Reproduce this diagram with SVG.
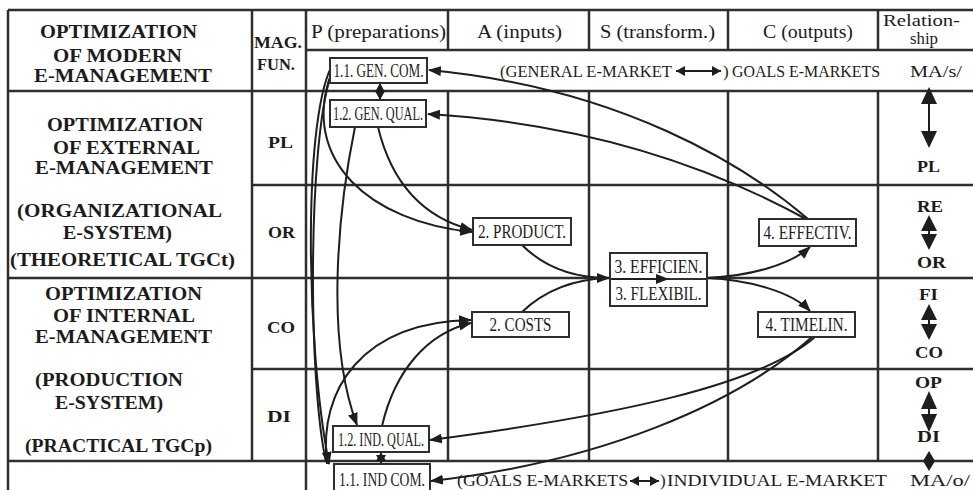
<svg xmlns="http://www.w3.org/2000/svg" width="973" height="490" viewBox="0 0 973 490">
  <style>
    text { font-family: "Liberation Serif", "Times New Roman", serif; fill: #1c1c1c; }
    .t { font-size: 19px; font-weight: bold; }
    .h { font-size: 18px; }
    .hs { font-size: 16px; }
    .m { font-size: 17px; font-weight: bold; }
    .n { font-size: 18px; }
    .r { font-size: 17px; }
    .grid line { stroke: #2e2e2e; stroke-width: 2.5; }
    .box { fill: #ffffff; stroke: #2e2e2e; stroke-width: 2; }
    .con { fill: none; stroke: #1e1e1e; stroke-width: 2; }
    .head { fill: #1e1e1e; }
  </style>
  <defs>
    <marker id="ah" viewBox="0 0 13 10" refX="12" refY="5" markerWidth="13" markerHeight="10" markerUnits="userSpaceOnUse" orient="auto-start-reverse">
      <path d="M0,0 L13,5 L0,10 z" fill="#1e1e1e"/>
    </marker>
    <marker id="sh" viewBox="0 0 9 10" refX="9" refY="5" markerWidth="9" markerHeight="10" markerUnits="userSpaceOnUse" orient="auto-start-reverse">
      <path d="M0,0 L9,5 L0,10 z" fill="#1e1e1e"/>
    </marker>
  </defs>

  <rect width="973" height="490" fill="#ffffff"/>

  <!-- table grid -->
  <g id="grid" class="grid">
    <line x1="8" y1="10" x2="973" y2="10"/>
    <line x1="306" y1="50" x2="973" y2="50"/>
    <line x1="8" y1="91" x2="973" y2="91"/>
    <line x1="252" y1="185" x2="973" y2="185"/>
    <line x1="8" y1="278" x2="973" y2="278"/>
    <line x1="252" y1="369" x2="973" y2="369"/>
    <line x1="8" y1="461" x2="973" y2="461"/>
    <line x1="8" y1="10" x2="8" y2="490"/>
    <line x1="252" y1="10" x2="252" y2="461"/>
    <line x1="306" y1="10" x2="306" y2="490"/>
    <line x1="448" y1="10" x2="448" y2="50"/>
    <line x1="448" y1="91" x2="448" y2="461"/>
    <line x1="589" y1="10" x2="589" y2="50"/>
    <line x1="589" y1="91" x2="589" y2="461"/>
    <line x1="728" y1="10" x2="728" y2="50"/>
    <line x1="728" y1="91" x2="728" y2="461"/>
    <line x1="878" y1="10" x2="878" y2="50"/>
    <line x1="878" y1="91" x2="878" y2="461"/>
  </g>

  <!-- left column: levels of management -->
  <g id="levels">
    <text class="t" x="40" y="38" textLength="157" lengthAdjust="spacingAndGlyphs">OPTIMIZATION</text>
    <text class="t" x="53" y="62" textLength="129" lengthAdjust="spacingAndGlyphs">OF MODERN</text>
    <text class="t" x="34" y="82" textLength="178" lengthAdjust="spacingAndGlyphs">E-MANAGEMENT</text>
    <text class="t" x="47" y="131" textLength="156" lengthAdjust="spacingAndGlyphs">OPTIMIZATION</text>
    <text class="t" x="53" y="154" textLength="147" lengthAdjust="spacingAndGlyphs">OF  EXTERNAL</text>
    <text class="t" x="35" y="174" textLength="178" lengthAdjust="spacingAndGlyphs">E-MANAGEMENT</text>
    <text class="t" x="17" y="217" textLength="205" lengthAdjust="spacingAndGlyphs">(ORGANIZATIONAL</text>
    <text class="t" x="63" y="239" textLength="109" lengthAdjust="spacingAndGlyphs">E-SYSTEM)</text>
    <text class="t" x="10" y="266" textLength="225" lengthAdjust="spacingAndGlyphs">(THEORETICAL TGCt)</text>
    <text class="t" x="45" y="300" textLength="157" lengthAdjust="spacingAndGlyphs">OPTIMIZATION</text>
    <text class="t" x="53" y="322" textLength="142" lengthAdjust="spacingAndGlyphs">OF  INTERNAL</text>
    <text class="t" x="35" y="343" textLength="177" lengthAdjust="spacingAndGlyphs">E-MANAGEMENT</text>
    <text class="t" x="35" y="386" textLength="148" lengthAdjust="spacingAndGlyphs">(PRODUCTION</text>
    <text class="t" x="55" y="409" textLength="108" lengthAdjust="spacingAndGlyphs">E-SYSTEM)</text>
    <text class="t" x="25" y="452" textLength="187" lengthAdjust="spacingAndGlyphs">(PRACTICAL TGCp)</text>
  </g>

  <!-- management functions -->
  <g id="functions">
    <text class="m" x="254" y="48" textLength="48" lengthAdjust="spacingAndGlyphs">MAG.</text>
    <text class="m" x="257" y="70" textLength="38" lengthAdjust="spacingAndGlyphs">FUN.</text>
    <text class="m" x="268" y="148" textLength="25" lengthAdjust="spacingAndGlyphs">PL</text>
    <text class="m" x="268" y="238" textLength="27" lengthAdjust="spacingAndGlyphs">OR</text>
    <text class="m" x="267" y="333" textLength="28" lengthAdjust="spacingAndGlyphs">CO</text>
    <text class="m" x="267" y="422" textLength="24" lengthAdjust="spacingAndGlyphs">DI</text>
  </g>

  <!-- column headers -->
  <g id="headers">
    <text class="h" x="311" y="38" textLength="135" lengthAdjust="spacingAndGlyphs">P (preparations)</text>
    <text class="h" x="477" y="38" textLength="85" lengthAdjust="spacingAndGlyphs">A (inputs)</text>
    <text class="h" x="600" y="38" textLength="115" lengthAdjust="spacingAndGlyphs">S (transform.)</text>
    <text class="h" x="763" y="38" textLength="90" lengthAdjust="spacingAndGlyphs">C (outputs)</text>
    <text class="hs" x="883" y="26" textLength="77" lengthAdjust="spacingAndGlyphs">Relation-</text>
    <text class="hs" x="910" y="44" textLength="28" lengthAdjust="spacingAndGlyphs">ship</text>
  </g>

  <!-- market rows -->
  <g id="market-general">
    <text class="r" x="500" y="77" textLength="172" lengthAdjust="spacingAndGlyphs">(GENERAL  E-MARKET</text>
    <line class="con" x1="676" y1="71" x2="721" y2="71" marker-start="url(#sh)" marker-end="url(#sh)"/>
    <text class="r" x="723" y="77">)</text>
    <text class="r" x="732" y="77" textLength="148" lengthAdjust="spacingAndGlyphs">GOALS  E-MARKETS</text>
    <text class="r" x="910" y="77" textLength="52" lengthAdjust="spacingAndGlyphs">MA/s/</text>
  </g>
  <g id="market-individual">
    <text class="r" x="457" y="486" textLength="171" lengthAdjust="spacingAndGlyphs">(GOALS  E-MARKETS</text>
    <line class="con" x1="630" y1="481" x2="659" y2="481" marker-start="url(#sh)" marker-end="url(#sh)"/>
    <text class="r" x="660" y="486">)</text>
    <text class="r" x="667" y="486" textLength="220" lengthAdjust="spacingAndGlyphs">INDIVIDUAL E-MARKET</text>
    <text class="r" x="910" y="486" textLength="60" lengthAdjust="spacingAndGlyphs">MA/o/</text>
  </g>

  <!-- relationship column -->
  <g id="relationship">
    <text class="m" x="917" y="172" textLength="23" lengthAdjust="spacingAndGlyphs">PL</text>
    <text class="m" x="917" y="212" textLength="26" lengthAdjust="spacingAndGlyphs">RE</text>
    <text class="m" x="917" y="268" textLength="29" lengthAdjust="spacingAndGlyphs">OR</text>
    <text class="m" x="919" y="300" textLength="19" lengthAdjust="spacingAndGlyphs">FI</text>
    <text class="m" x="915" y="358" textLength="28" lengthAdjust="spacingAndGlyphs">CO</text>
    <text class="m" x="915" y="388" textLength="27" lengthAdjust="spacingAndGlyphs">OP</text>
    <text class="m" x="917" y="442" textLength="23" lengthAdjust="spacingAndGlyphs">DI</text>
    <!-- MA/s/ <-> PL -->
    <line class="con" x1="929" y1="100" x2="929" y2="135"/>
    <polygon class="head" points="929,87 921,104 937,104"/>
    <polygon class="head" points="929,148 921,131 937,131"/>
    <!-- RE <-> OR -->
    <polygon class="head" points="929,215 921,231 937,231"/>
    <polygon class="head" points="929,250 921,234 937,234"/>
    <line class="con" x1="929" y1="228" x2="929" y2="237"/>
    <!-- FI <-> CO -->
    <polygon class="head" points="929,304 921,320 937,320"/>
    <polygon class="head" points="929,340 921,324 937,324"/>
    <line class="con" x1="929" y1="317" x2="929" y2="327"/>
    <!-- OP <-> DI -->
    <polygon class="head" points="929,391 921,409 937,409"/>
    <polygon class="head" points="929,432 921,414 937,414"/>
    <line class="con" x1="929" y1="405" x2="929" y2="418"/>
    <!-- DI <-> MA/o/ -->
    <polygon class="head" points="929,451 923,461 935,461"/>
    <polygon class="head" points="929,471 923,461 935,461"/>
  </g>

  <!-- connectors -->
  <g id="connectors" class="con">
    <path d="M808,219 C745,165 620,88 429,70" marker-end="url(#ah)"/>
    <path d="M806,219 C735,180 610,125 428,114" marker-end="url(#ah)"/>
    <path d="M331,74 C300,160 370,222 472,232" marker-end="url(#ah)"/>
    <path d="M378,127 C392,185 425,218 472,230" marker-end="url(#ah)"/>
    <path d="M355,127 C338,210 325,340 357,425" marker-end="url(#ah)"/>
    <path d="M334,62 C303,110 305,340 329,464" marker-end="url(#ah)"/>
    <path d="M330,78 C308,150 308,380 326,462"/>
    <path d="M522,245 C545,268 575,278 609,278" marker-end="url(#ah)"/>
    <path d="M522,312 C545,290 575,279 609,278"/>
    <path d="M707,278 C750,276 790,265 810,247" marker-end="url(#ah)"/>
    <path d="M707,278 C750,280 792,292 810,311" marker-end="url(#ah)"/>
    <path d="M815,337 C760,385 620,415 430,440" marker-end="url(#ah)"/>
    <path d="M812,337 C735,405 600,462 431,481" marker-end="url(#ah)"/>
    <path d="M382,426 C395,370 428,333 471,323" marker-end="url(#ah)"/>
    <path d="M327,464 C318,390 362,322 471,320" marker-end="url(#ah)"/>
    <line x1="380" y1="83" x2="380" y2="100" marker-start="url(#sh)" marker-end="url(#sh)"/>
    <line x1="381" y1="452" x2="381" y2="464" marker-start="url(#sh)" marker-end="url(#sh)"/>
  </g>

  <!-- nodes -->
  <g id="gen-com">
    <rect class="box" x="330" y="58" width="97" height="25"/>
    <text class="n" x="378.5" y="77" text-anchor="middle" textLength="90" lengthAdjust="spacingAndGlyphs">1.1. GEN. COM.</text>
  </g>
  <g id="gen-qual">
    <rect class="box" x="330" y="100" width="96" height="27"/>
    <text class="n" x="378" y="120" text-anchor="middle" textLength="90" lengthAdjust="spacingAndGlyphs">1.2. GEN. QUAL.</text>
  </g>
  <g id="product">
    <rect class="box" x="473" y="218" width="98" height="27"/>
    <text class="n" x="522" y="238" text-anchor="middle" textLength="88" lengthAdjust="spacingAndGlyphs">2. PRODUCT.</text>
  </g>
  <g id="costs">
    <rect class="box" x="472" y="312" width="97" height="25"/>
    <text class="n" x="520.5" y="331" text-anchor="middle" textLength="62" lengthAdjust="spacingAndGlyphs">2. COSTS</text>
  </g>
  <g id="efficiency">
    <rect class="box" x="610" y="253" width="97" height="53"/>
    <line x1="610" y1="279" x2="707" y2="279" stroke="#2e2e2e" stroke-width="2"/>
    <line x1="612" y1="279" x2="668" y2="279" class="con" marker-end="url(#ah)"/>
    <text class="n" x="658.5" y="273" text-anchor="middle" textLength="88" lengthAdjust="spacingAndGlyphs">3. EFFICIEN.</text>
    <text class="n" x="658.5" y="300" text-anchor="middle" textLength="86" lengthAdjust="spacingAndGlyphs">3. FLEXIBIL.</text>
  </g>
  <g id="effectiveness">
    <rect class="box" x="759" y="219" width="97" height="27"/>
    <text class="n" x="807.5" y="239" text-anchor="middle" textLength="88" lengthAdjust="spacingAndGlyphs">4. EFFECTIV.</text>
  </g>
  <g id="timeliness">
    <rect class="box" x="758" y="312" width="97" height="25"/>
    <text class="n" x="806.5" y="331" text-anchor="middle" textLength="82" lengthAdjust="spacingAndGlyphs">4. TIMELIN.</text>
  </g>
  <g id="ind-qual">
    <rect class="box" x="333" y="426" width="96" height="26"/>
    <text class="n" x="381" y="446" text-anchor="middle" textLength="86" lengthAdjust="spacingAndGlyphs">1.2. IND. QUAL.</text>
  </g>
  <g id="ind-com">
    <rect class="box" x="334" y="464" width="96" height="30"/>
    <text class="n" x="382" y="486" text-anchor="middle" textLength="86" lengthAdjust="spacingAndGlyphs">1.1. IND  COM.</text>
  </g>
</svg>
